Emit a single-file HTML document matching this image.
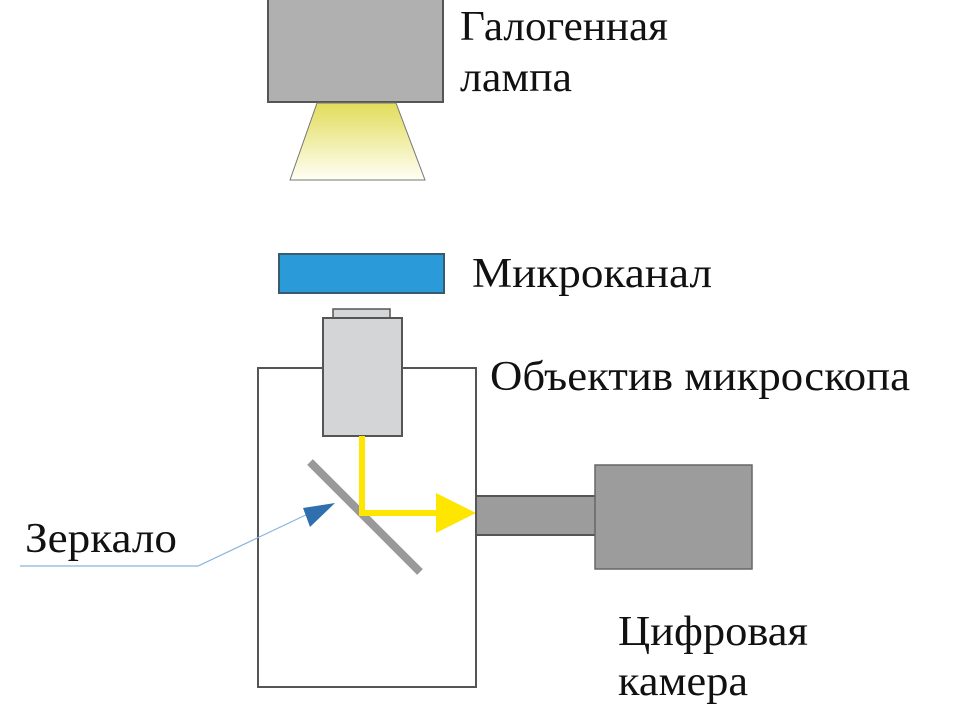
<!DOCTYPE html>
<html><head><meta charset="utf-8"><style>html,body{margin:0;padding:0;background:#fff}</style></head>
<body>
<svg width="970" height="715" viewBox="0 0 970 715" xmlns="http://www.w3.org/2000/svg">
<defs>
<linearGradient id="g" x1="0" y1="0" x2="0" y2="1">
<stop offset="0" stop-color="#e2dc5a"/><stop offset="1" stop-color="#fffff5"/>
</linearGradient>
</defs>
<rect x="268" y="-2" width="175" height="104" fill="#b0b0b0" stroke="#555" stroke-width="2"/>
<polygon points="317,103 396,103 425,180 290,180" fill="url(#g)" stroke="#777" stroke-width="1"/>
<rect x="279" y="254" width="165" height="39" fill="#2b9ad8" stroke="#3a5a70" stroke-width="2"/>
<rect x="258" y="368" width="218" height="319" fill="#fff" stroke="#555" stroke-width="2"/>
<rect x="333" y="309" width="57" height="10" fill="#d4d5d6" stroke="#555" stroke-width="1.5"/>
<rect x="323" y="318" width="79" height="118" fill="#d4d5d6" stroke="#555" stroke-width="2"/>
<line x1="310" y1="462" x2="420" y2="572" stroke="#999" stroke-width="8"/>
<polyline points="362,436 362,513 440,513" fill="none" stroke="#ffe600" stroke-width="6"/>
<polygon points="436,493 476,513 436,533" fill="#ffe600"/>
<rect x="476" y="496" width="120" height="39" fill="#9c9c9c" stroke="#555" stroke-width="2"/>
<rect x="595" y="465" width="157" height="104" fill="#9c9c9c" stroke="#666" stroke-width="1.5"/>
<polyline points="20,566 198,566 310,513" fill="none" stroke="#8ab4dc" stroke-width="1.2"/>
<polygon points="335,503 303,508 310,527" fill="#2f6fae"/>
<g font-family="'Liberation Serif','Noto Serif CJK SC',serif" font-size="42" fill="#111">
<text x="460" y="40" textLength="208" lengthAdjust="spacingAndGlyphs">Галогенная</text>
<text x="460" y="91" textLength="112" lengthAdjust="spacingAndGlyphs">лампа</text>
<text x="472" y="287" textLength="240" lengthAdjust="spacingAndGlyphs">Микроканал</text>
<text x="490" y="390" textLength="420" lengthAdjust="spacingAndGlyphs">Объектив микроскопа</text>
<text x="25" y="552" textLength="152" lengthAdjust="spacingAndGlyphs">Зеркало</text>
<text x="618" y="645" textLength="190" lengthAdjust="spacingAndGlyphs">Цифровая</text>
<text x="618" y="695" textLength="130" lengthAdjust="spacingAndGlyphs">камера</text>
</g>
</svg>
</body></html>
